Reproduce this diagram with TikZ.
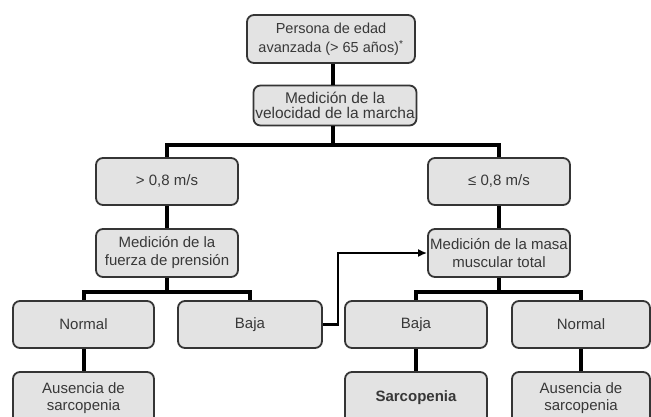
\documentclass[tikz,border=0pt]{standalone}
\usepackage{fontspec}
\setmainfont{Liberation Sans}
\usepackage{tikz}
\usetikzlibrary{arrows.meta}
\definecolor{boxfill}{HTML}{E3E3E3}
\definecolor{boxline}{HTML}{353535}
\definecolor{txt}{HTML}{383838}

\begin{document}
\begin{tikzpicture}[x=1pt,y=-1pt,
  box/.style={draw=boxline,line width=1.8pt,fill=boxfill,rounded corners=7pt,text=txt,align=center,inner sep=1pt,
    minimum width=142pt,minimum height=47pt,font=\fontsize{15}{18}\selectfont},
  link/.style={line width=4pt},
  jump/.style={line width=2.5pt,-{Latex[length=9pt,width=8pt]}}]
\useasboundingbox[fill=white] (0,0) rectangle (651,416);
\node[box,minimum width=168pt,minimum height=48pt,font=\fontsize{14.5}{19}\selectfont] (top) at (331,39) {Persona de edad\\avanzada (> 65 años)\textsuperscript{*}};
\node[box,minimum width=163pt,minimum height=40pt,font=\fontsize{15.5}{14.5}\selectfont] (vel) at (335,105.5) {Medición de la\\velocidad de la marcha};
\node[box] (fast) at (167,181.5) {> 0,8 m/s};
\node[box,minimum height=48pt] (grip) at (167,253) {Medición de la\\fuerza de prensión};
\node[box] (slow) at (499,181.5) {≤ 0,8 m/s};
\node[box,minimum height=48pt] (mass) at (499,253) {Medición de la masa\\muscular total};
\node[box,minimum width=141pt] (normA) at (83.5,324.5) {Normal};
\node[box,minimum width=144pt] (lowA) at (250,324.5) {Baja};
\node[box] (lowB) at (416,324.5) {Baja};
\node[box,minimum width=138pt] (normB) at (581,324.5) {Normal};
\node[box,minimum width=141pt,minimum height=52pt,font=\fontsize{15}{17}\selectfont] (noneA) at (83.5,398) {Ausencia de\\sarcopenia};
\node[box,minimum height=52pt] (sarc) at (416,398) {\bfseries Sarcopenia};
\node[box,minimum width=138pt,minimum height=52pt,font=\fontsize{15}{17}\selectfont] (noneB) at (581,398) {Ausencia de\\sarcopenia};
% tree
\draw[link] (top.south -| 333,0) -- (vel.north -| 333,0);
\draw[link] (vel.south -| 333,0) -- (333,145);
\draw[link] (fast.north) |- (333,145) -| (slow.north);
\draw[link] (fast) -- (grip);
\draw[link] (slow) -- (mass);
\draw[link] (grip.south) -- (167,292);
\draw[link] (normA.north) |- (167,292) -| (lowA.north);
\draw[link] (mass.south) -- (499,292);
\draw[link] (lowB.north) |- (499,292) -| (normB.north);
\draw[link] (normA) -- (noneA);
\draw[link] (lowB) -- (sarc);
\draw[link] (normB) -- (noneB);
% low grip goes on to muscle mass
\draw[jump] (lowA.east) -- (338,324.5) |- (mass.west);
\end{tikzpicture}
\end{document}
